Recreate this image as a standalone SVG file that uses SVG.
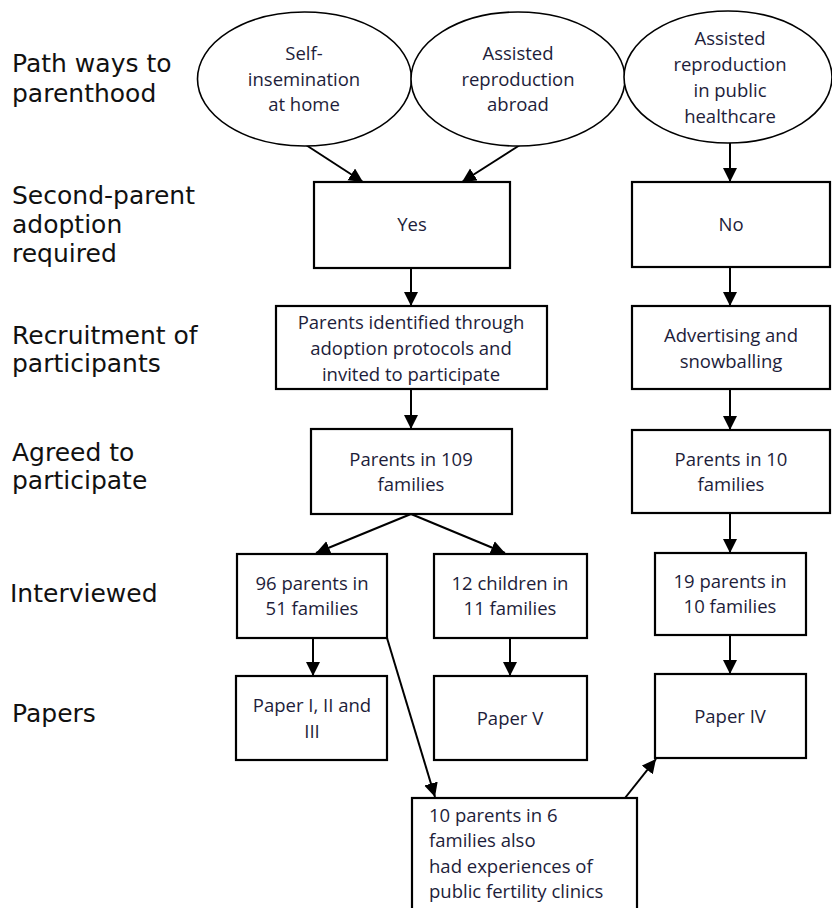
<svg xmlns="http://www.w3.org/2000/svg" width="832" height="908" viewBox="0 0 832 908">
<defs>
<marker id="arr" markerUnits="userSpaceOnUse" markerWidth="15" markerHeight="15" refX="14" refY="7" orient="auto">
<path d="M0,0 L14,7 L0,14 z" fill="#000"/>
</marker>
<style>
.lbl{font-family:"DejaVu Sans",Verdana,sans-serif;font-size:25px;fill:#111;}
.t{font-family:"Open Sans","Liberation Sans",sans-serif;font-size:18.5px;fill:#1d1d3a;text-anchor:middle;}
.tl{font-family:"Open Sans","Liberation Sans",sans-serif;font-size:18.5px;fill:#1d1d3a;}
.box{fill:#fff;stroke:#000;stroke-width:2.2;}
.ell{fill:#fff;stroke:#000;stroke-width:1.6;}
.c{stroke:#000;stroke-width:2;fill:none;marker-end:url(#arr);}
</style>
</defs>
<rect width="832" height="908" fill="#fff"/>
<g id="labels">
<text class="lbl" x="12" y="72">Path ways to</text>
<text class="lbl" x="12" y="102">parenthood</text>
<text class="lbl" x="12" y="204">Second-parent</text>
<text class="lbl" x="12" y="233">adoption</text>
<text class="lbl" x="12" y="262">required</text>
<text class="lbl" x="12" y="344">Recruitment of</text>
<text class="lbl" x="12" y="372">participants</text>
<text class="lbl" x="12" y="461">Agreed to</text>
<text class="lbl" x="12" y="489">participate</text>
<text class="lbl" x="10" y="602">Interviewed</text>
<text class="lbl" x="12" y="722">Papers</text>
</g>
<g id="connectors">
<line class="c" x1="306" y1="145" x2="363" y2="182"/>
<line class="c" x1="520" y1="145" x2="462" y2="182"/>
<line class="c" x1="730" y1="143" x2="730" y2="182"/>
<line class="c" x1="411" y1="268" x2="411" y2="306"/>
<line class="c" x1="730" y1="267" x2="730" y2="306"/>
<line class="c" x1="411" y1="389" x2="411" y2="429"/>
<line class="c" x1="730" y1="389" x2="730" y2="430"/>
<line class="c" x1="411" y1="514" x2="316" y2="553"/>
<line class="c" x1="411" y1="514" x2="505" y2="553"/>
<line class="c" x1="730" y1="513" x2="730" y2="553"/>
<line class="c" x1="313" y1="638" x2="313" y2="676"/>
<line class="c" x1="510" y1="638" x2="510" y2="676"/>
<line class="c" x1="730" y1="635" x2="730" y2="674"/>
<line class="c" x1="387" y1="638" x2="435" y2="797"/>
<line class="c" x1="625" y1="798" x2="656" y2="759"/>
</g>
<g id="n-self">
<ellipse class="ell" cx="304.5" cy="79" rx="107" ry="67"/>
<text class="t" x="304" y="60">Self-</text>
<text class="t" x="304" y="86">insemination</text>
<text class="t" x="304" y="111">at home</text>
</g>
<g id="n-abroad">
<ellipse class="ell" cx="518" cy="79" rx="107" ry="67"/>
<text class="t" x="518" y="60">Assisted</text>
<text class="t" x="518" y="86">reproduction</text>
<text class="t" x="518" y="111">abroad</text>
</g>
<g id="n-public">
<ellipse class="ell" cx="728" cy="77" rx="104" ry="66"/>
<text class="t" x="730" y="45">Assisted</text>
<text class="t" x="730" y="71">reproduction</text>
<text class="t" x="730" y="97">in public</text>
<text class="t" x="730" y="123">healthcare</text>
</g>
<g id="n-yes">
<rect class="box" x="314" y="182" width="196" height="86"/>
<text class="t" x="412" y="231">Yes</text>
</g>
<g id="n-no">
<rect class="box" x="632" y="182" width="198" height="85"/>
<text class="t" x="731" y="231">No</text>
</g>
<g id="n-identified">
<rect class="box" x="276" y="306" width="271" height="83"/>
<text class="t" x="411" y="329">Parents identified through</text>
<text class="t" x="411" y="355">adoption protocols and</text>
<text class="t" x="411" y="381">invited to participate</text>
</g>
<g id="n-advertising">
<rect class="box" x="632" y="306" width="198" height="83"/>
<text class="t" x="731" y="342">Advertising and</text>
<text class="t" x="731" y="368">snowballing</text>
</g>
<g id="n-109">
<rect class="box" x="311" y="429" width="201" height="85"/>
<text class="t" x="411" y="466">Parents in 109</text>
<text class="t" x="411" y="491">families</text>
</g>
<g id="n-10">
<rect class="box" x="632" y="430" width="198" height="83"/>
<text class="t" x="731" y="466">Parents in 10</text>
<text class="t" x="731" y="491">families</text>
</g>
<g id="n-96">
<rect class="box" x="237" y="554" width="150" height="84"/>
<text class="t" x="312" y="590">96 parents in</text>
<text class="t" x="312" y="615">51 families</text>
</g>
<g id="n-12">
<rect class="box" x="434" y="554" width="153" height="84"/>
<text class="t" x="510" y="590">12 children in</text>
<text class="t" x="510" y="615">11 families</text>
</g>
<g id="n-19">
<rect class="box" x="655" y="553" width="151" height="82"/>
<text class="t" x="730" y="588">19 parents in</text>
<text class="t" x="730" y="613">10 families</text>
</g>
<g id="n-paper123">
<rect class="box" x="236" y="676" width="151" height="84"/>
<text class="t" x="312" y="712">Paper I, II and</text>
<text class="t" x="312" y="738">III</text>
</g>
<g id="n-paper5">
<rect class="box" x="434" y="676" width="153" height="84"/>
<text class="t" x="510" y="725">Paper V</text>
</g>
<g id="n-paper4">
<rect class="box" x="655" y="674" width="151" height="84"/>
<text class="t" x="730" y="723">Paper IV</text>
</g>
<g id="n-public-exp">
<rect class="box" x="412" y="798" width="225" height="114"/>
<text class="tl" x="429" y="822">10 parents in 6</text>
<text class="tl" x="429" y="847">families also</text>
<text class="tl" x="429" y="873">had experiences of</text>
<text class="tl" x="429" y="898">public fertility clinics</text>
</g>
</svg>
